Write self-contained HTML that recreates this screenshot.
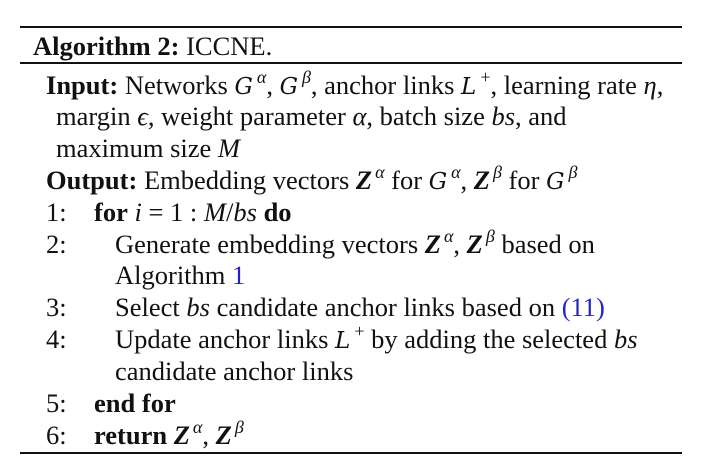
<!DOCTYPE html>
<html><head><meta charset="utf-8"><style>
body{margin:0;background:#fff;width:702px;height:472px;position:relative;overflow:hidden;font-family:"Liberation Serif",serif;font-size:26.5px;color:#111}
.l{position:absolute;white-space:nowrap;line-height:28px}
.r{position:absolute;left:20px;width:662px;background:#111}
i{font-style:italic}
sup{font-size:18px;vertical-align:11px;line-height:0;margin-left:2px}
.z{font-weight:bold;font-style:italic;padding-right:1px}
.c{font-family:"DejaVu Serif",serif;font-style:italic;font-size:23px;padding-right:2px}
.blue{color:#2222cc}
</style></head><body>
<div class="r" style="top:26px;height:2px"></div>
<div class="r" style="top:62px;height:2px"></div>
<div class="r" style="top:452px;height:2px"></div>
<div class="l" style="left:33px;top:32px"><b>Algorithm 2:</b> ICCNE.</div>
<div class="l" style="left:46px;top:71px"><b>Input:</b> Networks <span class="c">G</span><sup><i>α</i></sup>, <span class="c">G</span><sup><i>β</i></sup>, anchor links <span class="c">L</span><sup>+</sup>, learning rate <i>η</i>,</div>
<div class="l" style="left:56px;top:102px">margin <i>ϵ</i>, weight parameter <i>α</i>, batch size <i>bs</i>, and</div>
<div class="l" style="left:56px;top:134px">maximum size <i>M</i></div>
<div class="l" style="left:46px;top:166px"><b>Output:</b> Embedding vectors <span class="z">Z</span><sup><i>α</i></sup> for <span class="c">G</span><sup><i>α</i></sup>, <span class="z">Z</span><sup><i>β</i></sup> for <span class="c">G</span><sup><i>β</i></sup></div>
<div class="l" style="left:46px;top:198px">1:</div><div class="l" style="left:94px;top:198px"><b>for</b> <i>i</i> = 1 : <i>M</i>/<i>bs</i> <b>do</b></div>
<div class="l" style="left:46px;top:230px">2:</div><div class="l" style="left:115px;top:230px">Generate embedding vectors <span class="z">Z</span><sup><i>α</i></sup>, <span class="z">Z</span><sup><i>β</i></sup> based on</div>
<div class="l" style="left:115px;top:261px">Algorithm <span class="blue">1</span></div>
<div class="l" style="left:46px;top:293px">3:</div><div class="l" style="left:115px;top:293px">Select <i>bs</i> candidate anchor links based on <span class="blue">(11)</span></div>
<div class="l" style="left:46px;top:325px">4:</div><div class="l" style="left:115px;top:325px">Update anchor links <span class="c">L</span><sup>+</sup> by adding the selected <i>bs</i></div>
<div class="l" style="left:115px;top:357px">candidate anchor links</div>
<div class="l" style="left:46px;top:389px">5:</div><div class="l" style="left:94px;top:389px"><b>end for</b></div>
<div class="l" style="left:46px;top:421px">6:</div><div class="l" style="left:94px;top:421px"><b>return</b> <span class="z">Z</span><sup><i>α</i></sup>, <span class="z">Z</span><sup><i>β</i></sup></div>
</body></html>
